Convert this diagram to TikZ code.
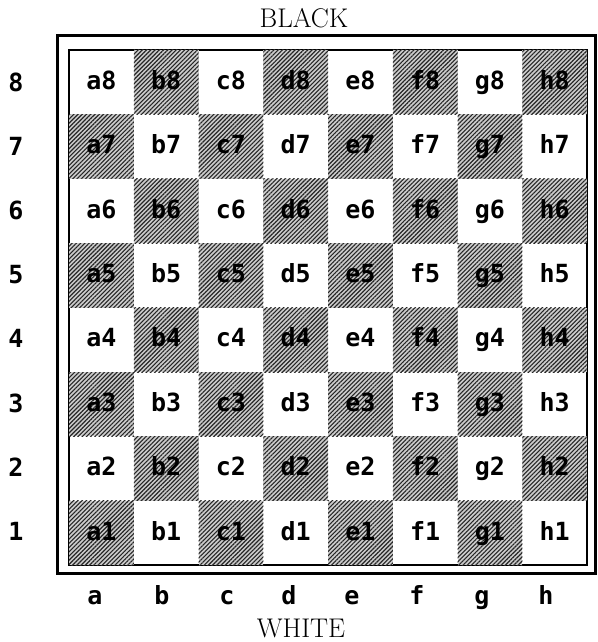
\documentclass[tikz,border=0pt]{standalone}
\usepackage{fontspec}
\newfontfamily\boardfont{DejaVu Sans Mono}
\usetikzlibrary{patterns.meta}
\begin{document}
\begin{tikzpicture}[x=1pt,y=-1pt,
  lightsq/.style={minimum width=64.75pt, minimum height=64.4pt, inner sep=0pt, text height=19pt, text depth=5pt, font=\boardfont\bfseries\fontsize{25}{25}\selectfont},
  darksq/.style={lightsq, fill=gray!40, postaction={pattern={Lines[angle=45,distance=3pt,line width=1.1pt]}, pattern color=black!85}},
  coordlabel/.style={inner sep=0pt, text height=19pt, text depth=5pt, font=\boardfont\bfseries\fontsize{25}{25}\selectfont},
  sidelabel/.style={inner sep=0pt, font=\fontsize{27}{27}\selectfont}]
\useasboundingbox (0,0) rectangle (597,642);
\node[sidelabel] (black) at (304,18) {BLACK};
\node[sidelabel] (white) at (301,628) {WHITE};
\draw[line width=3pt] (57,36) rectangle (595.5,573);
\draw[line width=1.5pt] (69,50) rectangle (587,565);
\foreach \f [count=\i] in {a,b,c,d,e,f,g,h} {
  \foreach \r in {1,...,8} {
    \edef\sqstyle{\ifodd\numexpr\i+\r\relax lightsq\else darksq\fi}
    \node[\sqstyle] (\f\r) at ({69+64.75*(\i-0.5)},{50+64.4*(8.5-\r)}) {\f\r};
  }
}
\foreach \f/\x in {a/95,b/162,c/227,d/289,e/352,f/417,g/482,h/546}
  \node[coordlabel] (file-\f) at (\x,597) {\f};
\foreach \r in {1,...,8}
  \node[coordlabel] (rank-\r) at (16,{84+64.2*(8-\r)}) {\r};
\end{tikzpicture}
\end{document}
